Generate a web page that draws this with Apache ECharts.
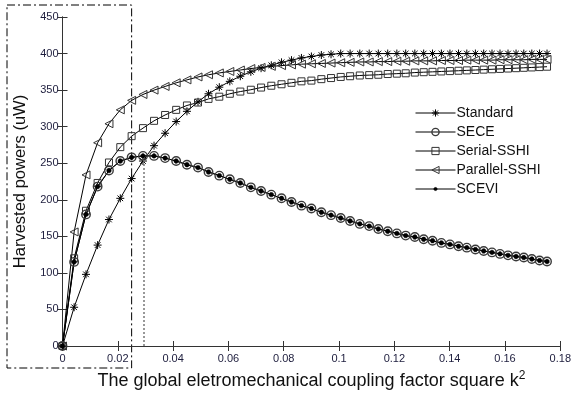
<!DOCTYPE html>
<html>
<head>
<meta charset="utf-8">
<script src="https://cdn.jsdelivr.net/npm/echarts@6/dist/echarts.min.js"></script>
<style>
  html, body { margin: 0; padding: 0; background: #fff; }
  #chart { width: 574px; height: 395px; }
</style>
</head>
<body>
<div id="chart"></div>
<script>
// global coupling factor square k^2 (sample points)
const kSquare = [0, 0.0042, 0.0085, 0.0127, 0.0168, 0.0209, 0.0250, 0.0291, 0.0331, 0.0371,
  0.0411, 0.0450, 0.0490, 0.0528, 0.0567, 0.0605, 0.0643, 0.0681, 0.0718, 0.0755,
  0.0792, 0.0828, 0.0864, 0.0900, 0.0936, 0.0971, 0.1006, 0.1040, 0.1075, 0.1109,
  0.1142, 0.1176, 0.1209, 0.1241, 0.1274, 0.1306, 0.1338, 0.1370, 0.1401, 0.1432,
  0.1462, 0.1493, 0.1523, 0.1553, 0.1582, 0.1611, 0.1640, 0.1668, 0.1697, 0.1725, 0.1752]

// harvested powers (uW)
const standard = [0, 53, 98, 138, 173, 202, 229, 253, 274, 291,
  307, 321, 334, 345, 354, 362, 369, 375, 380, 384,
  388, 391, 394, 396, 398, 399, 400, 400, 400, 400,
  400, 400, 400, 400, 400, 400, 400, 400, 400, 400,
  400, 400, 400, 400, 400, 400, 400, 400, 400, 400, 400]
const sece = [0, 115, 180, 218, 240, 253, 258, 260, 260, 257,
  253, 248, 244, 238, 233, 228, 223, 217, 212, 207,
  202, 197, 192, 188, 183, 179, 175, 171, 167, 164,
  160, 157, 154, 151, 149, 146, 144, 141, 139, 136.5,
  134.5, 132, 130, 128, 126, 124, 122.5, 121, 119, 117, 115.5]
const serialSSHI = [0, 120, 185, 223, 251, 272, 287, 298, 308, 316,
  323, 329, 333, 338, 341, 345, 348, 350.5, 353.5, 356,
  358, 360, 362, 363, 365, 366.5, 368, 369, 370, 370.5,
  371, 372, 372.5, 373, 374, 374.5, 375, 375.5, 376, 376.5,
  377, 377.5, 378, 378.5, 379, 379.5, 380, 380.5, 381, 381.5, 382]
const parallelSSHI = [0, 156, 234, 278, 304, 323, 336, 344, 350, 355,
  360, 364, 368, 371, 373.5, 375.5, 377.5, 379.5, 381, 382.5,
  383.5, 384.5, 385.5, 386, 386.5, 387, 387.5, 388, 388.5, 388.5,
  389, 389, 389.5, 389.5, 390, 390, 390, 390.5, 390.5, 390.5,
  391, 391, 391, 391, 391.5, 391.5, 391.5, 391.5, 392, 392, 392]
const scevi = [0, 115, 180, 218, 240, 253, 258, 260, 260, 257,
  253, 248, 244, 238, 233, 228, 223, 217, 212, 207,
  202, 197, 192, 188, 183, 179, 175, 171, 167, 164,
  160, 157, 154, 151, 149, 146, 144, 141, 139, 136.5,
  134.5, 132, 130, 128, 126, 124, 122.5, 121, 119, 117, 115.5]

const seriesNames = ['Standard', 'SECE', 'Serial-SSHI', 'Parallel-SSHI', 'SCEVI']
const xTicks = [0, 0.18, 0.02]   // min, max, interval
const yTicks = [0, 450, 50]
const peakK2 = 0.0295
const peakPower = 256
const boxK2 = 0.025

const font = 'Arial, "Liberation Sans", sans-serif'
const tickColor = '#1c1c3c'
const clear = 'rgba(0,0,0,0)'

const starIcon = 'path://M5,0L5,10M0,5L10,5M1.5,1.5L8.5,8.5M8.5,1.5L1.5,8.5'
const leftTriangle = 'path://M0,5L10,0L10,10Z'
// small dot inside a larger (invisible) box so the legend icon stays small too
const smallDot = 'path://M0,0L0.01,0M9.99,10L10,10M4,2.8L6,2.8L7.2,4L7.2,6L6,7.2L4,7.2L2.8,6L2.8,4Z'

function pairs(arr) {
  return kSquare.map(function(x, i) { return [x, arr[i]] })
}

const styles = {
  'Standard': { symbol: starIcon, size: 8, item: { color: clear, borderColor: '#000', borderWidth: 1 } },
  'SECE': { symbol: 'circle', size: 8.5, item: { color: clear, borderColor: '#3a3a3a', borderWidth: 1.4 } },
  'Serial-SSHI': { symbol: 'rect', size: 7, item: { color: clear, borderColor: '#333', borderWidth: 1 } },
  'Parallel-SSHI': { symbol: leftTriangle, size: 8, item: { color: clear, borderColor: '#333', borderWidth: 1 } },
  'SCEVI': { symbol: smallDot, size: 10, item: { color: '#000', borderColor: '#000', borderWidth: 0.5 } }
}
const values = {
  'Standard': standard,
  'SECE': sece,
  'Serial-SSHI': serialSSHI,
  'Parallel-SSHI': parallelSSHI,
  'SCEVI': scevi
}

const chart = echarts.init(document.getElementById('chart'))

const axisCommon = {
  type: 'value',
  axisLine: { show: true, lineStyle: { color: '#333', width: 1 } },
  axisTick: { show: true, inside: true, length: 5, lineStyle: { color: '#333' } },
  splitLine: { show: false }
}

const series = seriesNames.map(function(name) {
  const st = styles[name]
  const s = {
    name: name,
    type: 'line',
    data: pairs(values[name]),
    symbol: st.symbol,
    symbolSize: st.size,
    showSymbol: true,
    showAllSymbol: true,
    lineStyle: { color: '#000', width: 1 },
    itemStyle: st.item,
    emphasis: { disabled: true }
  }
  if (name === 'SECE') {
    s.markLine = {
      silent: true,
      symbol: 'none',
      label: { show: false },
      lineStyle: { color: '#777', width: 1.5, type: [2, 2] },
      data: [[{ coord: [peakK2, 0] }, { coord: [peakK2, peakPower] }]]
    }
  }
  return s
})

chart.setOption({
  animation: false,
  backgroundColor: '#fff',
  grid: { left: 62.5, right: 11.5, top: 17, bottom: 48 },
  legend: {
    orient: 'vertical',
    left: 410,
    top: 101,
    itemWidth: 40,
    itemHeight: 9,
    itemGap: 5,
    textStyle: { fontFamily: font, fontSize: 14, color: '#111', padding: [0, 0, 0, -4] },
    data: seriesNames.map(function(name) {
      return {
        name: name,
        itemStyle: styles[name].item,
        lineStyle: { color: '#000', width: 1 }
      }
    })
  },
  xAxis: [
    Object.assign({}, axisCommon, {
      min: xTicks[0], max: xTicks[1], interval: xTicks[2],
      name: 'The global eletromechanical coupling factor square k{sup|2}',
      nameLocation: 'middle',
      nameGap: 24,
      nameTextStyle: {
        fontFamily: font, fontSize: 18, color: '#111',
        rich: { sup: { fontFamily: font, fontSize: 12, color: '#111', verticalAlign: 'top', padding: [0, 0, 10, 0] } }
      },
      axisLabel: { fontFamily: font, fontSize: 11, color: tickColor, margin: 7 }
    }),
    Object.assign({}, axisCommon, {
      position: 'top',
      min: xTicks[0], max: xTicks[1], interval: xTicks[2],
      axisLabel: { show: false }
    })
  ],
  yAxis: [
    Object.assign({}, axisCommon, {
      min: yTicks[0], max: yTicks[1], interval: yTicks[2],
      name: 'Harvested powers (uW)',
      nameLocation: 'middle',
      nameGap: 32,
      nameTextStyle: { fontFamily: font, fontSize: 16.5, color: '#111' },
      axisLabel: { fontFamily: font, fontSize: 11, color: tickColor, margin: 4 }
    }),
    Object.assign({}, axisCommon, {
      position: 'right',
      min: yTicks[0], max: yTicks[1], interval: yTicks[2],
      axisLabel: { show: false }
    })
  ],
  series: series
})

// dash-dot frame around the low coupling zone
const xr = chart.convertToPixel({ xAxisIndex: 0 }, boxK2)
chart.setOption({
  graphic: [{
    type: 'polyline',
    silent: true,
    shape: { points: [[7, 5], [xr, 5], [xr, 368], [7, 368], [7, 5]] },
    style: { fill: null, stroke: '#000', lineWidth: 1, lineDash: [8, 3, 2, 3] }
  }]
})
</script>
</body>
</html>
